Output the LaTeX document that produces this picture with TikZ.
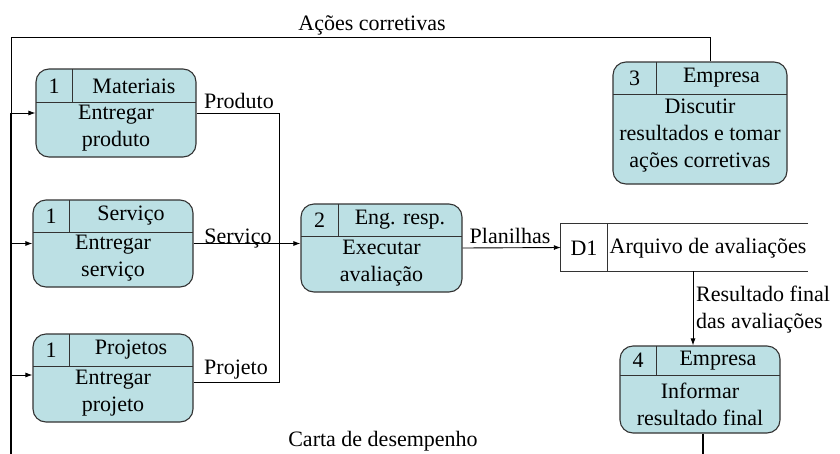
\documentclass[tikz,border=0pt]{standalone}
\usepackage{fontspec}
\setmainfont{Liberation Serif}
\newfontfamily\dfdfont{Liberation Serif}
\usetikzlibrary{arrows.meta}
\definecolor{procfill}{RGB}{188,224,228}

\begin{document}
\begin{tikzpicture}[x=1pt, y=-1pt, font=\dfdfont\fontsize{22}{27}\selectfont,
        every node/.append style={inner sep=0pt, align=center},
        proc/.style={draw=black!80, line width=1.1pt, fill=procfill, rounded corners=13pt},
        flow/.style={-{Latex[length=7pt,width=5pt]}, line width=0.9pt},
        part/.style={draw=black!80, line width=1pt}]
        \clip (0,0) rectangle (840,453);
        \fill [white] (0,0) rectangle (840,453);

        % processos
        \node [proc, minimum width=160pt, minimum height=88pt] (M) at (116,113) {};
        \node [proc, minimum width=160pt, minimum height=87pt] (S) at (113,243.5) {};
        \node [proc, minimum width=160pt, minimum height=88pt] (P) at (113,378) {};
        \node [proc, minimum width=161pt, minimum height=88pt] (E) at (381.5,248) {};
        \node [proc, minimum width=174pt, minimum height=122pt] (C) at (700,123) {};
        \node [proc, minimum width=160pt, minimum height=87pt] (I) at (700,389.5) {};
        \node [minimum width=247pt, minimum height=47pt] (DS) at (684.5,247.5) {};

        \draw [part] (36,102) -- (196,102) (72,69) -- (72,102);
        \draw [part] (33,232) -- (193,232) (69,200) -- (69,232);
        \draw [part] (33,366) -- (193,366) (69,334) -- (69,366);
        \draw [part] (301,236) -- (462,236) (338,204) -- (338,236);
        \draw [part] (613,94) -- (787,94) (656,62) -- (656,94);
        \draw [part] (620,375) -- (780,375) (656,346) -- (656,375);
        \draw [part] (DS.north east) -- (DS.north west) -- (DS.south west) -- (DS.south east);
        \draw [part] (607,224) -- (607,271);

        \node (Mn) at (54,86) {1};
        \node (Mh) at (134,86) {Materiais};
        \node (Mb) at (116,128) {Entregar\\produto};
        \node (Sn) at (51,216) {1};
        \node (Sh) at (131,216) {Serviço};
        \node (Sb) at (113,258) {Entregar\\serviço};
        \node (Pn) at (51,350) {1};
        \node (Ph) at (131,350) {Projetos};
        \node (Pb) at (113,393) {Entregar\\projeto};
        \node (En) at (319.5,220) {2};
        \node (Eh) at (400,220) {Eng. resp.};
        \node (Eb) at (381.5,263) {Executar\\avaliação};
        \node (Cn) at (634.5,78) {3};
        \node (Ch) at (721.5,78) {Empresa};
        \node (Cb) at (700,136) {Discutir\\resultados e tomar\\ações corretivas};
        \node (In) at (638,360.5) {4};
        \node (Ih) at (718,360.5) {Empresa};
        \node (Ib) at (700,404) {Informar\\resultado final};
        \node (Dn) at (584,248) {D1};
        \node (Dt) at (708,248) {Arquivo de avaliações};

        % fluxos
        \coordinate (tl) at (11,37);
        \coordinate (tr) at (710,37);
        \coordinate (bl) at (11,465);
        \coordinate (br) at (703,465);
        \coordinate (jx) at (279,0);

        \draw [flow] ([xshift=10pt]C.north) -- (tr) -- (tl) -- (M.west -| tl) -- (M.west);
        \draw [line width=1.8pt] ([xshift=3pt]I.south) -- (br) -- (bl) -- (M.west -| bl);
        \draw [flow] (S.west -| bl) -- (S.west);
        \draw [flow] ([yshift=3pt]P.west -| bl) -- ([yshift=3pt]P.west);
        \draw [line width=0.9pt] ([yshift=-4pt]P.east) -| (M.east -| jx) -- (M.east);
        \draw [flow] (S.east) -- (E.west |- S.east);
        \draw [flow] (E.east) -- (DS.west);
        \draw [flow] ([xshift=8.5pt]DS.south) -- ([xshift=-7pt]I.north);

        \node (lAC) at (372,25) {Ações corretivas};
        \node (lPr) at (239,101) {Produto};
        \node (lSe) at (238,239) {Serviço};
        \node (lPj) at (236,370) {Projeto};
        \node (lPl) at (510,236) {Planilhas};
        \node [anchor=west, align=left] (lRF) at (696,310) {Resultado final\\das avaliações};
        \node (lCD) at (383,441) {Carta de desempenho};
\end{tikzpicture}
\end{document}
